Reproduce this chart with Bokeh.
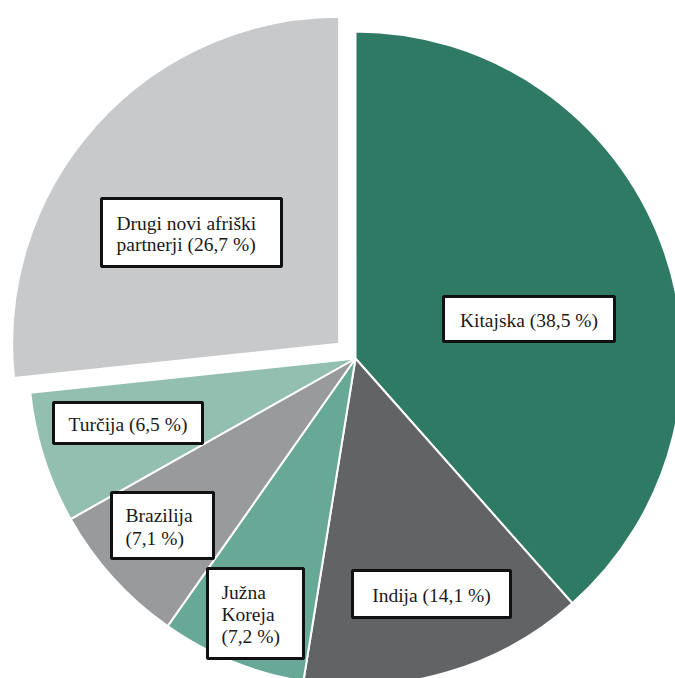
import math
from bokeh.plotting import figure
from bokeh.models import Range1d
from bokeh.core.properties import value
from bokeh.embed import file_html
from bokeh.resources import INLINE

# ---- data ----
countries = ["Kitajska", "Indija", "Južna Koreja", "Brazilija", "Turčija", "Drugi novi afriški partnerji"]
shares = [38.5, 14.1, 7.2, 7.1, 6.5, 26.7]
label_lines = [
    ["Kitajska (38,5 %)"],
    ["Indija (14,1 %)"],
    ["Južna", "Koreja", "(7,2 %)"],
    ["Brazilija", "(7,1 %)"],
    ["Turčija (6,5 %)"],
    ["Drugi novi afriški", "partnerji (26,7 %)"],
]
colors = ["#2f7a64", "#616365", "#67a897", "#999a9c", "#93bfb1", "#c8c9cb"]
explode = [0, 0, 0, 0, 0, 22]

# ---- layout (pixels, y measured from top) ----
W, H = 675, 678
cx, cy_top, R = 355, 358, 327
boxes = [
    (443, 296, 614, 341),
    (352, 570, 510, 617),
    (207, 568, 303, 658),
    (111, 492, 213, 558),
    (53, 402, 202, 443),
    (101, 198, 281, 266),
]
text_left = [None, None, 221, 125, None, 116]
line_h = [22, 22, 22, 23, 22, 21]
font_size = "19.5px"
FONT = value("Liberation Serif")

p = figure(width=W, height=H, output_backend="svg", toolbar_location=None,
           x_range=Range1d(0, W), y_range=Range1d(0, H), min_border=0,
           background_fill_color="white", border_fill_color="white")
p.axis.visible = False
p.grid.visible = False
p.outline_line_color = None

total = sum(shares)
cum = 0.0
cy = H - cy_top
for i, s in enumerate(shares):
    t0 = cum / total * 2 * math.pi
    cum += s
    t1 = cum / total * 2 * math.pi
    mid = (t0 + t1) / 2
    ox = cx + explode[i] * math.sin(mid)
    oy = cy + explode[i] * math.cos(mid)
    p.wedge(x=[ox], y=[oy], radius=R,
            start_angle=[math.pi / 2 - t1], end_angle=[math.pi / 2 - t0],
            fill_color=colors[i], line_color="white", line_width=2)

for i, lines in enumerate(label_lines):
    l, t, r, b = boxes[i]
    p.quad(left=[l], right=[r], top=[H - t], bottom=[H - b],
           fill_color="white", line_color="#111111", line_width=3)
    n = len(lines)
    yc = (t + b) / 2 + 1
    for k, ln in enumerate(lines):
        y = yc + (k - (n - 1) / 2) * line_h[i]
        if text_left[i] is None:
            p.text(x=[(l + r) / 2], y=[H - y], text=[ln],
                   text_font=FONT, text_font_size=font_size,
                   text_align="center", text_baseline="middle", text_color="#1a1a1a")
        else:
            p.text(x=[text_left[i]], y=[H - y], text=[ln],
                   text_font=FONT, text_font_size=font_size,
                   text_align="left", text_baseline="middle", text_color="#1a1a1a")

open("out.html", "w").write(file_html(p, INLINE))
